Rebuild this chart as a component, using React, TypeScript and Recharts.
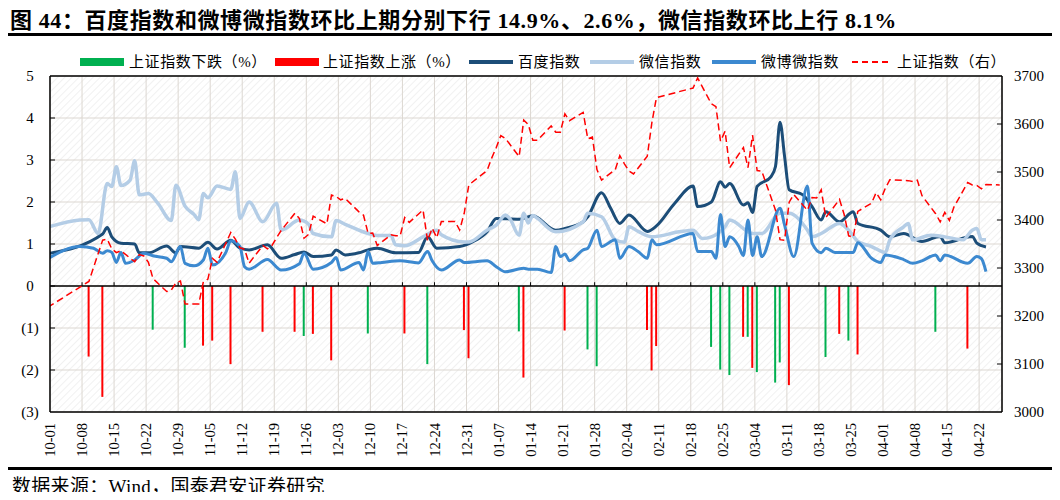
import React from "react";
import {
  Bar,
  CartesianGrid,
  Cell,
  ComposedChart,
  Line,
  ReferenceLine,
  XAxis,
  YAxis,
} from "recharts";

const FONT = "'Liberation Serif', 'Times New Roman', 'Noto Sans CJK SC', serif";
const NAVY = "#1c4d78";
const LIGHT = "#b4cde6";
const MID = "#3c89d0";
const RED = "#ff0000";
const GREEN = "#00b050";
const GRID = "#dcd7d1";

// day 0 = 10-01, weekly ticks
const tickLabels = [
  "10-01", "10-08", "10-15", "10-22", "10-29", "11-05", "11-12", "11-19",
  "11-26", "12-03", "12-10", "12-17", "12-24", "12-31", "01-07", "01-14",
  "01-21", "01-28", "02-04", "02-11", "02-18", "02-25", "03-04", "03-11",
  "03-18", "03-25", "04-01", "04-08", "04-15", "04-22",
];

const baiduDays = [
  -1, 11, 12, 13, 15, 18, 19, 21, 25, 27, 28, 32, 34, 36, 39, 41, 43, 47, 50,
  53, 55, 57, 61, 62, 64, 67, 69, 71, 75, 80, 82, 84, 89, 92, 95, 97, 102, 105,
  110, 112, 116, 117, 120, 122, 124, 126, 130, 132, 136, 140, 141, 144, 146,
  147, 148, 151, 152, 153, 154, 157, 158, 159, 160, 161, 164, 166, 168, 169,
  172, 175, 176, 181, 183, 186, 190, 194, 195, 201, 202, 204,
];
const baiduValues = [
  0.77, 1.24, 1.39, 1.17, 1.02, 1.0, 0.79, 0.79, 0.95, 0.79, 0.94, 0.9, 1.04,
  0.88, 1.09, 0.9, 0.86, 0.98, 0.66, 0.75, 0.81, 0.7, 0.74, 0.86, 0.74, 0.79,
  0.86, 0.9, 0.79, 0.8, 1.17, 0.9, 0.94, 1.06, 1.29, 1.61, 1.59, 1.67, 1.33,
  1.37, 1.53, 1.65, 2.22, 1.85, 1.49, 1.69, 1.3, 1.43, 1.97, 2.38, 1.89, 2.0,
  2.48, 2.35, 2.44, 1.93, 1.98, 1.75, 2.37, 2.6, 2.84, 3.9, 3.08, 2.29, 2.17,
  1.89, 1.57, 1.77, 1.53, 1.77, 1.49, 1.33, 1.17, 1.25, 1.06, 1.18, 1.03, 1.18,
  1.02, 0.93,
];

const wechatDays = [
  -1, 6, 8, 10, 12, 13, 14, 15, 17, 18, 19, 21, 23, 26, 27, 29, 31, 32, 33, 34,
  36, 39, 40, 41, 43, 46, 49, 50, 54, 56, 57, 61, 62, 64, 69, 71, 74, 75, 77,
  81, 84, 85, 90, 91, 95, 97, 99, 100, 102, 103, 104, 105, 106, 110, 116, 117,
  120, 123, 125, 126, 128, 131, 137, 140, 142, 144, 147, 148, 153, 155, 159,
  161, 165, 166, 168, 172, 174, 176, 179, 182, 183, 186, 187, 188, 192, 195,
  199, 201, 202, 203, 204,
];
const wechatValues = [
  1.4, 1.57, 1.58, 1.25, 2.44, 2.37, 2.84, 2.39, 2.52, 2.98, 2.17, 2.2, 1.98,
  1.56, 2.4, 1.9, 1.7, 1.58, 2.2, 2.1, 2.38, 2.3, 2.72, 1.61, 2.0, 1.53, 1.97,
  1.33, 1.57, 1.47, 1.25, 1.17, 1.56, 1.47, 1.25, 1.2, 1.2, 0.98, 0.96, 1.17,
  1.33, 1.22, 1.05, 1.05, 1.33, 1.45, 1.69, 1.6, 1.21, 1.73, 1.5, 1.68, 1.61,
  1.29, 1.53, 1.73, 1.65, 1.1, 1.04, 1.41, 1.3, 1.17, 1.29, 1.33, 1.13, 1.17,
  1.41, 1.57, 1.25, 1.25, 1.73, 1.73, 1.33, 1.17, 1.25, 1.49, 1.33, 1.06, 0.94,
  0.8, 1.1, 1.41, 1.49, 1.1, 1.21, 1.17, 1.1, 1.33, 1.37, 1.1, 1.1,
];

const weiboDays = [
  -1, 6, 9, 11, 12, 13, 14, 15, 16, 18, 20, 22, 25, 26, 28, 29, 31, 33, 34, 35,
  38, 39, 41, 42, 43, 47, 50, 54, 55, 57, 61, 62, 63, 67, 68, 69, 70, 72, 76,
  80, 82, 83, 85, 89, 90, 95, 97, 99, 103, 104, 106, 109, 110, 111, 112, 113,
  116, 117, 119, 120, 123, 124, 126, 128, 130, 131, 132, 140, 141, 144, 145,
  146, 147, 148, 150, 151, 152, 153, 154, 155, 159, 160, 162, 165, 166, 168,
  169, 171, 175, 176, 179, 181, 182, 186, 188, 190, 193, 194, 195, 200, 202,
  203, 204,
];
const weiboValues = [
  0.65, 0.94, 0.9, 0.78, 0.84, 0.8, 0.56, 0.8, 0.54, 0.62, 0.78, 0.72, 0.66,
  0.58, 0.94, 0.54, 0.48, 0.62, 0.9, 0.5, 0.82, 1.08, 0.94, 0.46, 0.4, 0.63,
  0.38, 0.53, 0.78, 0.4, 0.56, 0.68, 0.38, 0.56, 0.38, 0.82, 0.54, 0.56, 0.6,
  0.55, 0.82, 0.6, 0.38, 0.62, 0.56, 0.6, 0.46, 0.34, 0.42, 0.4, 0.4, 0.32,
  0.94, 0.7, 0.76, 0.6, 0.86, 0.9, 1.33, 0.94, 1.1, 0.66, 0.94, 0.82, 0.66, 1.1,
  0.98, 1.25, 0.82, 0.82, 0.66, 1.7, 0.94, 1.17, 0.94, 0.72, 1.57, 0.72, 1.17,
  0.7, 1.85, 1.45, 0.7, 2.38, 1.02, 0.79, 0.9, 0.8, 0.8, 1.03, 0.66, 0.56, 0.74,
  0.63, 0.54, 0.6, 0.74, 0.6, 0.74, 0.54, 0.7, 0.65, 0.34,
];

// Shanghai Composite close (right axis)
const sseDays = [
  -1, 8, 11, 12, 13, 14, 15, 18, 19, 20, 21, 22, 25, 26, 27, 28, 29, 32, 33, 34,
  35, 36, 39, 40, 41, 42, 43, 46, 47, 48, 49, 50, 53, 54, 55, 56, 57, 60, 61,
  62, 63, 64, 67, 68, 69, 70, 71, 74, 75, 76, 77, 78, 81, 82, 83, 84, 85, 88,
  89, 90, 91, 95, 96, 97, 98, 99, 102, 103, 104, 105, 106, 109, 110, 111, 112,
  113, 116, 117, 118, 119, 120, 123, 124, 125, 126, 127, 130, 131, 132, 140,
  141, 144, 145, 146, 147, 148, 151, 152, 153, 154, 155, 158, 159, 160, 161,
  162, 165, 166, 167, 168, 169, 172, 173, 174, 175, 176, 179, 180, 181, 182,
  183, 187, 188, 189, 190, 193, 194, 195, 196, 197, 200, 201, 202, 203, 204,
  207,
];
const sseClose = [
  3218, 3272, 3358, 3360, 3340, 3332, 3336, 3313, 3328, 3325, 3312, 3278, 3251,
  3254, 3269, 3273, 3225, 3225, 3271, 3277, 3320, 3312, 3374, 3360, 3342, 3339,
  3310, 3347, 3340, 3347, 3363, 3378, 3414, 3403, 3362, 3370, 3408, 3392, 3452,
  3449, 3442, 3445, 3417, 3410, 3372, 3373, 3347, 3369, 3367, 3367, 3405, 3395,
  3421, 3357, 3383, 3363, 3397, 3397, 3379, 3414, 3473, 3503, 3529, 3551, 3576,
  3570, 3532, 3608, 3599, 3566, 3566, 3596, 3583, 3583, 3621, 3607, 3624, 3569,
  3573, 3505, 3483, 3505, 3534, 3517, 3502, 3496, 3533, 3603, 3655, 3675, 3696,
  3642, 3636, 3564, 3585, 3509, 3551, 3509, 3577, 3503, 3502, 3421, 3359, 3358,
  3437, 3453, 3420, 3447, 3446, 3463, 3405, 3443, 3412, 3367, 3364, 3418, 3435,
  3457, 3442, 3466, 3484, 3482, 3480, 3483, 3451, 3413, 3396, 3416, 3399, 3427,
  3478, 3473, 3472, 3465, 3474, 3473,
];

// daily moves beyond 1%, drawn below zero
const fallDays = [22, 29, 55, 69, 82, 102, 117, 119, 144, 146, 148, 152, 154, 158, 159, 169, 174, 193];
const fallPct = [1.04, 1.47, 1.19, 1.13, 1.86, 1.08, 1.51, 1.91, 1.45, 1.99, 2.12, 1.21, 2.05, 2.3, 1.82, 1.69, 1.3, 1.09];
const riseDays = [8, 11, 33, 35, 39, 46, 53, 57, 61, 77, 90, 91, 103, 112, 130, 131, 132, 151, 153, 161, 172, 176, 200];
const risePct = [1.68, 2.64, 1.42, 1.3, 1.86, 1.09, 1.09, 1.14, 1.77, 1.13, 1.05, 1.72, 2.18, 1.06, 1.05, 2.01, 1.43, 1.21, 1.95, 2.36, 1.14, 1.63, 1.49];

const leftTicks = [-3, -2, -1, 0, 1, 2, 3, 4, 5];
const rightTicks = [3000, 3100, 3200, 3300, 3400, 3500, 3600, 3700];
const xTicks = tickLabels.map((_, i) => i * 7 - 0.5);

const toMap = (days: number[], vals: number[]) => {
  const m = new Map<number, number>();
  days.forEach((d, i) => m.set(d, vals[i]));
  return m;
};
const baiduMap = toMap(baiduDays, baiduValues);
const wechatMap = toMap(wechatDays, wechatValues);
const weiboMap = toMap(weiboDays, weiboValues);
const sseMap = toMap(sseDays, sseClose);
const fallMap = toMap(fallDays, fallPct);
const riseMap = toMap(riseDays, risePct);

const rows: any[] = [];
for (let d = -1; d <= 207; d++) {
  const fall = fallMap.get(d);
  const rise = riseMap.get(d);
  rows.push({
    day: d,
    baidu: baiduMap.get(d) ?? null,
    wechat: wechatMap.get(d) ?? null,
    weibo: weiboMap.get(d) ?? null,
    sse: sseMap.get(d) ?? null,
    chg: fall != null ? -fall : rise != null ? -rise : null,
    up: rise != null,
  });
}

const XTick = (props: any) => {
  const { x, y, payload } = props;
  const label = tickLabels[Math.round((payload.value + 0.5) / 7)];
  return (
    <text
      x={x}
      y={y}
      transform={`rotate(-90 ${x} ${y})`}
      textAnchor="end"
      dy="0.35em"
      fontSize={14.5}
      fontFamily={FONT}
      fill="#000"
    >
      {label}
    </text>
  );
};

const LeftTick = (props: any) => {
  const { y, payload } = props;
  const v = payload.value;
  return (
    <text x={30} y={y} textAnchor="middle" dy="0.35em" fontSize={15} fontFamily={FONT} fill="#000">
      {v < 0 ? `(${-v})` : v}
    </text>
  );
};

const RightTick = (props: any) => {
  const { y, payload } = props;
  return (
    <text x={1014} y={y} textAnchor="start" dy="0.35em" fontSize={15} fontFamily={FONT} fill="#000">
      {payload.value}
    </text>
  );
};

const legendText = {
  position: "absolute" as const,
  top: 52,
  lineHeight: "20px",
  fontSize: 15,
  letterSpacing: 0.6,
  whiteSpace: "nowrap" as const,
};

const App = () => {
  return (
    <div style={{ position: "relative", width: 1060, height: 500, margin: -8, background: "#fff", fontFamily: FONT, color: "#000" }}>
      <div style={{ position: "absolute", left: 10, top: 8, fontSize: 22, lineHeight: "26px", letterSpacing: 0.6, fontWeight: "bold", whiteSpace: "nowrap" }}>
        图 44：百度指数和微博微指数环比上期分别下行 14.9%、2.6%，微信指数环比上行 8.1%
      </div>
      <div style={{ position: "absolute", left: 0, top: 33, width: 1060, height: 3, background: "#000" }} />

      <div style={{ position: "absolute", left: 80, top: 58, width: 44, height: 8, background: GREEN }} />
      <span style={{ ...legendText, left: 129 }}>上证指数下跌（%）</span>
      <div style={{ position: "absolute", left: 275, top: 58, width: 44, height: 8, background: RED }} />
      <span style={{ ...legendText, left: 323 }}>上证指数上涨（%）</span>
      <div style={{ position: "absolute", left: 469, top: 60, width: 44, height: 4, background: NAVY }} />
      <span style={{ ...legendText, left: 518 }}>百度指数</span>
      <div style={{ position: "absolute", left: 590, top: 60, width: 44, height: 4, background: LIGHT }} />
      <span style={{ ...legendText, left: 639 }}>微信指数</span>
      <div style={{ position: "absolute", left: 712, top: 60, width: 44, height: 4, background: MID }} />
      <span style={{ ...legendText, left: 761 }}>微博微指数</span>
      <svg style={{ position: "absolute", left: 852, top: 60 }} width={40} height={4}>
        <line x1={0} y1={2} x2={40} y2={2} stroke={RED} strokeWidth={2} strokeDasharray="6 4" />
      </svg>
      <span style={{ ...legendText, left: 897 }}>上证指数（右）</span>

      <div style={{ position: "absolute", left: 0, top: 0 }}>
        <ComposedChart width={1060} height={470} data={rows} margin={{ top: 76, right: 0, bottom: 0, left: 0 }}>
          <defs>
            <pattern id="hatch" patternUnits="userSpaceOnUse" width={5} height={5} patternTransform="rotate(45)">
              <line x1={0} y1={0} x2={0} y2={5} stroke="#e8e8e8" strokeWidth={1.2} />
            </pattern>
          </defs>
          <CartesianGrid yAxisId="left" stroke={GRID} fill="url(#hatch)" />
          <XAxis
            dataKey="day"
            type="number"
            domain={[-0.5, 207.5]}
            allowDataOverflow
            ticks={xTicks}
            interval={0}
            height={58}
            tick={<XTick />}
            tickLine={false}
            tickMargin={5}
            axisLine={{ stroke: "#000", strokeWidth: 1.5 }}
          />
          <YAxis
            yAxisId="left"
            domain={[-3, 5]}
            ticks={leftTicks}
            width={50}
            tick={<LeftTick />}
            tickLine={false}
            axisLine={{ stroke: "#000", strokeWidth: 1.5 }}
          />
          <YAxis
            yAxisId="right"
            orientation="right"
            domain={[3000, 3700]}
            ticks={rightTicks}
            width={58}
            tick={<RightTick />}
            tickLine={false}
            axisLine={{ stroke: "#000", strokeWidth: 1.5 }}
          />
          <ReferenceLine yAxisId="left" y={5} stroke="#000" strokeWidth={1.5} />
          <ReferenceLine yAxisId="left" y={0} stroke="#000" strokeWidth={1.5} />
          {xTicks.slice(1).map((t) => (
            <ReferenceLine
              key={`zt${t}`}
              yAxisId="left"
              segment={[{ x: t, y: 0 }, { x: t, y: 0.09 }]}
              stroke="#000"
            />
          ))}
          {leftTicks.slice(1, -1).map((v) => (
            <ReferenceLine
              key={`lt${v}`}
              yAxisId="left"
              segment={[{ x: -0.5, y: v }, { x: 0.6, y: v }]}
              stroke="#000"
            />
          ))}
          {rightTicks.slice(1, -1).map((v) => (
            <ReferenceLine
              key={`rt${v}`}
              yAxisId="right"
              segment={[{ x: 206.4, y: v }, { x: 207.5, y: v }]}
              stroke="#000"
            />
          ))}
          <Bar yAxisId="left" dataKey="chg" barSize={2} isAnimationActive={false}>
            {rows.map((r, i) => (
              <Cell key={i} fill={r.up ? RED : GREEN} />
            ))}
          </Bar>
          <Line yAxisId="left" type="monotone" dataKey="baidu" stroke={NAVY} strokeWidth={3} dot={false} connectNulls isAnimationActive={false} />
          <Line yAxisId="left" type="monotone" dataKey="wechat" stroke={LIGHT} strokeWidth={3.5} dot={false} connectNulls isAnimationActive={false} />
          <Line yAxisId="left" type="monotone" dataKey="weibo" stroke={MID} strokeWidth={3} dot={false} connectNulls isAnimationActive={false} />
          <Line yAxisId="right" type="linear" dataKey="sse" stroke={RED} strokeWidth={1.5} strokeDasharray="7 4" dot={false} connectNulls isAnimationActive={false} />
        </ComposedChart>
      </div>

      <div style={{ position: "absolute", left: 0, top: 467, width: 1060, height: 3, background: "#000" }} />
      <div style={{ position: "absolute", left: 12, top: 476, fontSize: 19, lineHeight: "22px", letterSpacing: 0.3, whiteSpace: "nowrap" }}>
        数据来源：Wind，国泰君安证券研究
      </div>
    </div>
  );
};

export default App;
